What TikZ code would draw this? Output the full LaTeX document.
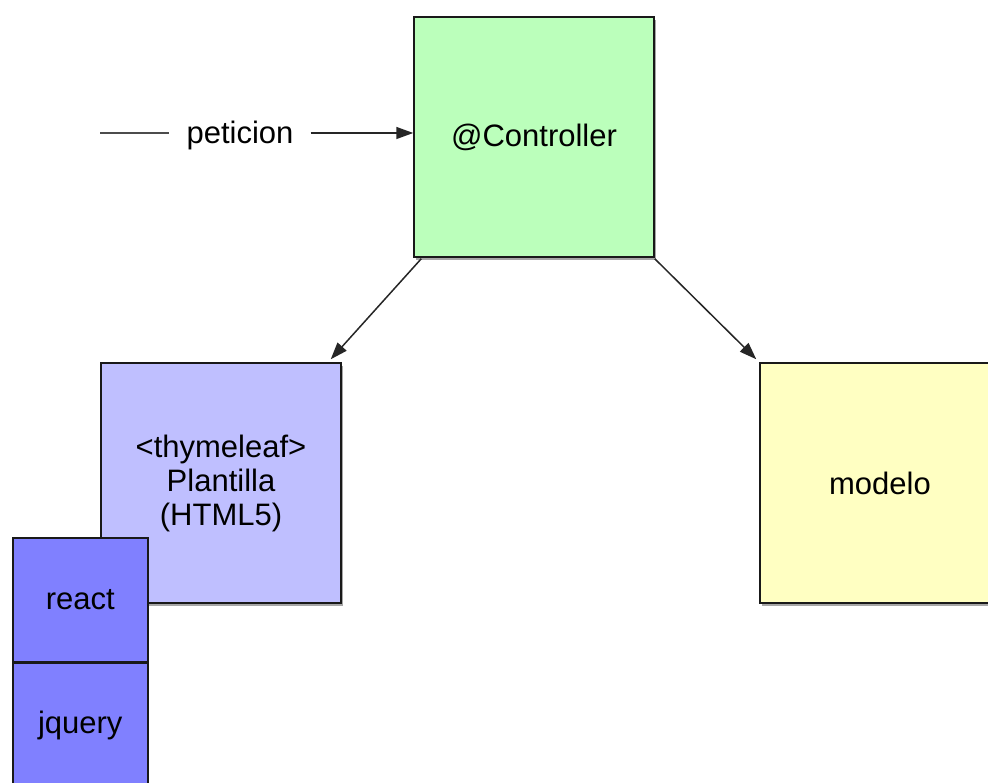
\documentclass[tikz,border=0pt]{standalone}
\usepackage{fontspec}
\setmainfont{Liberation Sans}
\usetikzlibrary{arrows.meta,shadows,calc}
\definecolor{ctrlgreen}{HTML}{BBFFBB}
\definecolor{plantblue}{HTML}{BFBFFF}
\definecolor{libblue}{HTML}{8080FF}
\definecolor{modyellow}{HTML}{FFFFC2}
\tikzset{
  box/.style={draw=black!90, line width=1.5pt, minimum width=240pt, minimum height=240pt,
    inner sep=0pt, align=center, font=\fontsize{31}{34}\selectfont,
    drop shadow={shadow xshift=2pt, shadow yshift=-3pt, fill=black, opacity=0.35}},
  libbox/.style={draw=black!90, line width=1.5pt, fill=libblue, minimum width=135pt, minimum height=124pt,
    inner sep=0pt, font=\fontsize{31}{34}\selectfont},
  conn/.style={line width=1.5pt, draw=black!85, -{Triangle[length=17pt,width=12pt]}},
  txt/.style={font=\fontsize{31}{34}\selectfont, inner sep=0pt}
}
\begin{document}
\begin{tikzpicture}[x=1pt,y=-1pt]
\useasboundingbox (0,0) rectangle (988,783);
\clip (0,0) rectangle (988,783);
\node[box, fill=ctrlgreen] (ctrl) at (534,137) {@Controller};
\node[box, fill=plantblue] (plant) at (221,483) {<thymeleaf>\\Plantilla\\(HTML5)};
\node[box, fill=modyellow] (mod) at (880,483) {modelo};
\node[libbox, anchor=north west] (react) at (12,537) {react};
\node[libbox, anchor=north west] (jq) at (react.south west) {jquery};
\coordinate (start) at (100,133);
\node[txt] (pet) at (240,135) {peticion};
\draw[line width=1.5pt, draw=black!70] (start) -- ($(pet.west |- start)+(-17,0)$);
\draw[conn] ($(pet.east |- start)+(17,0)$) -- (ctrl.west |- start);
\draw[conn] ($(ctrl.south west)+(8,1)$) -- ($(plant.north east)+(-11,-3)$);
\draw[conn] ($(ctrl.south east)+(0,1)$) -- ($(mod.north west)+(-3,-3)$);
\end{tikzpicture}
\end{document}
